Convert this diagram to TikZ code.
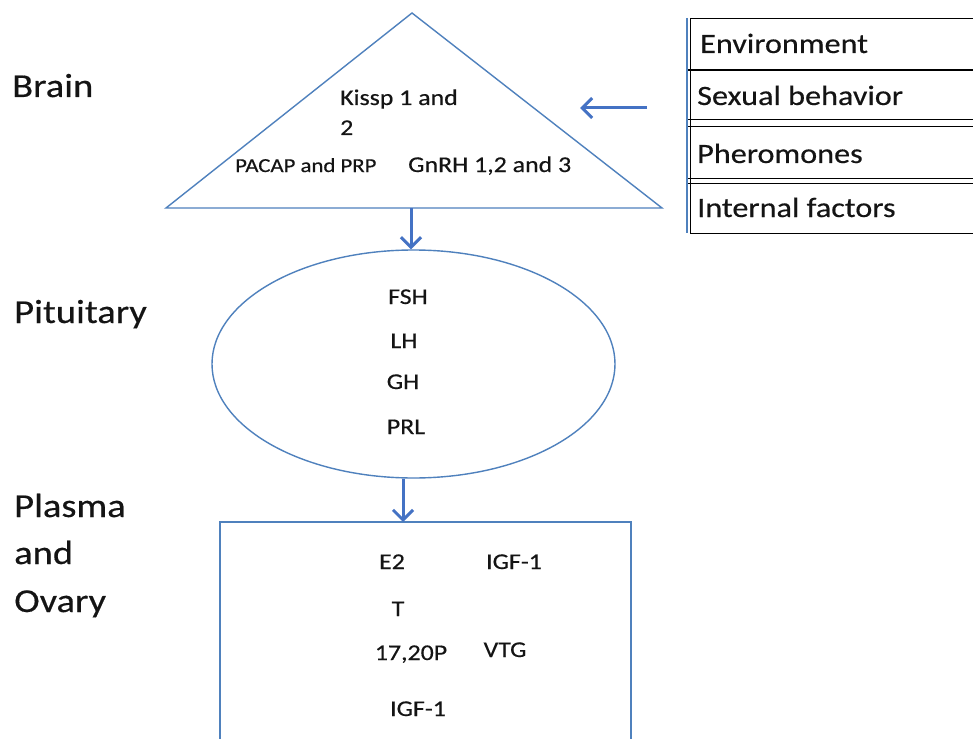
\documentclass[tikz,border=0pt]{standalone}
\usepackage{fontspec}
\setmainfont{Carlito}[FakeStretch=1.15,FakeBold=0.4]
\usetikzlibrary{arrows.meta,shapes.geometric}
\definecolor{lineblue}{RGB}{79,129,189}
\definecolor{arrblue}{RGB}{68,114,196}
\definecolor{txt}{RGB}{20,20,20}
\tikzset{
  shapeline/.style={draw=lineblue, line width=1.4pt},
  flowarrow/.style={draw=arrblue, line width=3pt, -{Straight Barb[length=10pt,width=20pt,line width=3pt]}},
  biglabel/.style={anchor=base west, inner sep=0pt, text=txt, font=\fontsize{33.5}{40}\selectfont},
  midlabel/.style={anchor=base, inner sep=0pt, text=txt, font=\fontsize{22.5}{28}\selectfont},
  smalllabel/.style={anchor=base, inner sep=0pt, text=txt, font=\fontsize{19.8}{23}\selectfont},
  listlabel/.style={anchor=base west, inner sep=0pt, text=txt, font=\fontsize{28}{34}\selectfont},
  divider/.style={draw=black, line width=1pt}
}
\begin{document}
\begin{tikzpicture}[x=1pt,y=-1pt]
\useasboundingbox (0,0) rectangle (973,738);
\fill[white] (0,0) rectangle (973,738);

% left labels
\node[biglabel] (brain) at (12,97) {Brain};
\node[biglabel] (pit) at (14,323) {Pituitary};
\node[biglabel] (plasma) at (14,517) {Plasma};
\node[biglabel] (and) at (14,564) {and};
\node[biglabel] (ovary) at (14,612) {Ovary};

% triangle
\coordinate (tA) at (412,13);
\coordinate (tL) at (166,208);
\coordinate (tR) at (662,208);
\draw[shapeline, line join=miter] (tA) -- (tL) -- (tR) -- cycle;
\coordinate (tbase) at (411,208);
\node[midlabel, anchor=base west] (kiss1) at (340,105) {Kissp 1 and};
\node[midlabel, anchor=base west] (kiss2) at (340,135) {2};
\node[smalllabel, anchor=base west] (pacap) at (235,172) {PACAP and PRP};
\node[midlabel, anchor=base west] (gnrh) at (408,172) {GnRH 1,2 and 3};

% ellipse
\node[shapeline, ellipse, minimum width=403pt, minimum height=228pt, inner sep=0pt] (pitell) at (413.5,364) {};
\node[midlabel] (fsh) at (408,304) {FSH};
\node[midlabel] (lh) at (404,348) {LH};
\node[midlabel] (gh) at (403,389) {GH};
\node[midlabel] (prl) at (406,434) {PRL};

% rectangle (bottom runs past the picture)
\coordinate (rTL) at (220,522);
\coordinate (rTR) at (631,522);
\draw[shapeline] (220,760) -- (rTL) -- (rTR) -- (631,760);
\coordinate (rtop) at (403,522);
\node[midlabel] (e2) at (392,569) {E2};
\node[midlabel] (igf1a) at (514,569) {IGF-1};
\node[midlabel] (t) at (398,616) {T};
\node[midlabel] (p1720) at (411,660) {17,20P};
\node[midlabel] (vtg) at (505,657) {VTG};
\node[midlabel] (igf1b) at (418,716) {IGF-1};

% factor list box
\draw[black, line width=0.8pt] (973,18) -- (690,18) -- (690,233) -- (973,233);
\draw[lineblue, line width=1.8pt] (687,18) -- (687,233);
\draw[divider, line width=2.4pt] (688,70) -- (973,70);
\draw[divider] (688,120) -- (973,120);
\draw[divider] (688,127) -- (973,127);
\draw[divider] (688,178) -- (973,178);
\draw[divider] (688,183) -- (973,183);
\node[listlabel] (env) at (700,53) {Environment};
\node[listlabel] (sex) at (697,105) {Sexual behavior};
\node[listlabel] (pher) at (697,163) {Pheromones};
\node[listlabel] (intf) at (697,217) {Internal factors};
\coordinate (listin) at (647,108);
\coordinate (triin) at (580,108);

% arrows
\draw[flowarrow] (listin) -- (triin);
\draw[flowarrow] (tbase) -- (pitell.north -| tbase);
\draw[flowarrow] (pitell.south -| rtop) -- (rtop);
\end{tikzpicture}
\end{document}
